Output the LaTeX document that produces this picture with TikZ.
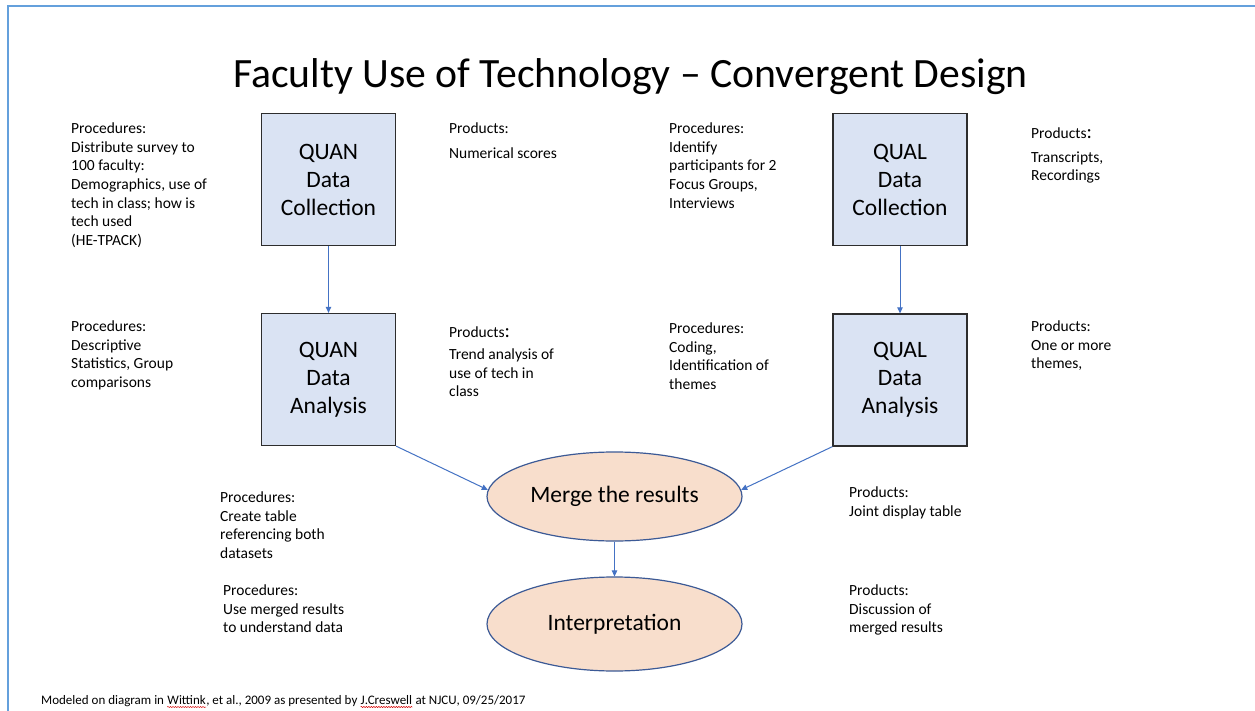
\documentclass[tikz,border=0pt]{standalone}
\usepackage{fontspec}
\setmainfont{Carlito}
\usetikzlibrary{arrows.meta,shapes.geometric,decorations.pathmorphing}

\definecolor{frameblue}{RGB}{100,160,220}
\definecolor{boxfill}{RGB}{218,227,243}
\definecolor{boxline}{RGB}{45,45,45}
\definecolor{ovalfill}{RGB}{248,222,204}
\definecolor{ovalline}{RGB}{60,90,150}
\definecolor{linkblue}{RGB}{68,114,196}

% left-aligned block whose baseline is that of its first line
\newcommand\stack[1]{\begin{tabular}[t]{@{}l@{}}#1\end{tabular}}
\newcommand\bigcolon{{\fontsize{20}{20}\selectfont:}}

\begin{document}
\begin{tikzpicture}[x=1pt,y=-1pt,
  stepbox/.style={draw=boxline, line width=1.3pt, fill=boxfill,
    minimum width=134pt, minimum height=132pt, align=center, inner sep=0,
    font=\fontsize{23.5}{28}\selectfont},
  oval/.style={ellipse, draw=ovalline, line width=1.2pt, fill=ovalfill,
    minimum width=255pt, minimum height=89pt, inner sep=0,
    font=\fontsize{23.5}{28}\selectfont},
  note/.style={anchor=base west, inner sep=0, yshift=-2pt,
    font=\fontsize{15.5}{18.7}\selectfont},
  foot/.style={anchor=base west, inner sep=0, font=\fontsize{13}{15}\selectfont},
  link/.style={draw=linkblue, line width=1pt, -{Triangle[length=6pt,width=5.5pt]}},
  squiggle/.style={red!85!black, line width=0.5pt, decorate,
    decoration={snake, amplitude=0.6pt, segment length=2.5pt}},
]
\path[use as bounding box, fill=white] (0,0) rectangle (1255,711);

% slide frame
\draw[frameblue, line width=2pt] (8,711) -- (8,6) -- (1255,6);

% title
\node[anchor=base, inner sep=0, font=\fontsize{41.7}{48}\selectfont] (title)
  at (630.5,88) {Faculty Use of Technology – Convergent Design};

% process boxes
\node[stepbox] (quanC) at (328.5,179.5) {QUAN\\Data\\Collection};
\node[stepbox] (qualC) at (900,179.5) {QUAL\\Data\\Collection};
\node[stepbox] (quanA) at (328.5,379.5) {QUAN\\Data\\Analysis};
\node[stepbox] (qualA) at (900,380) {QUAL\\Data\\Analysis};
\node[oval] (merge) at (614.5,496.5) {Merge the results};
\node[oval, minimum height=94pt] (interp) at (614.5,624) {Interpretation};

% connectors
\draw[link] (quanC) -- (quanA);
\draw[link] (qualC) -- (qualA);
\draw[link] (quanA.south east) -- (merge.177);
\draw[link] (qualA.south west) -- (merge.3);
\draw[link] (merge) -- (interp);

% procedures and products
\node[note] (procQuanC) at (71,131.5) {\stack{Procedures:\\Distribute survey to\\100 faculty:\\Demographics, use of\\tech in class; how is\\tech used\\(HE-TPACK)}};
\node[note] (prodQuanC) at (449,131.5) {\stack{Products:\\[6.3pt]Numerical scores}};
\node[note] (procQualC) at (669,131.5) {\stack{Procedures:\\Identify\\participants for 2\\Focus Groups,\\Interviews}};
\node[note] (prodQualC) at (1031,136.5) {\stack{Products\bigcolon\\[5pt]Transcripts,\\Recordings}};

\node[note] (procQuanA) at (71,329.5) {\stack{Procedures:\\Descriptive\\Statistics, Group\\comparisons}};
\node[note] (prodQuanA) at (449,335.5) {\stack{Products\bigcolon\\[3.3pt]Trend analysis of\\use of tech in\\class}};
\node[note] (procQualA) at (669,331.5) {\stack{Procedures:\\Coding,\\Identification of\\themes}};
\node[note] (prodQualA) at (1031,329.5) {\stack{Products:\\One or more\\themes,}};

\node[note] (procMerge) at (220,500.5) {\stack{Procedures:\\Create table\\referencing both\\datasets}};
\node[note] (procInterp) at (223,593.5) {\stack{Procedures:\\Use merged results\\to understand data}};
\node[note] (prodMerge) at (849,495.5) {\stack{Products:\\Joint display table}};
\node[note] (prodInterp) at (849,593.5) {\stack{Products:\\Discussion of\\merged results}};

% source line, split so the flagged words can be underlined
\node[foot] (f1) at (41,704) {Modeled on diagram in\ \mbox{}};
\node[foot] (f2) at (f1.base east) {Wittink};
\node[foot] (f3) at (f2.base east) {, et al., 2009 as presented by\ \mbox{}};
\node[foot] (f4) at (f3.base east) {J.Creswell};
\node[foot] (f5) at (f4.base east) {\ at NJCU, 09/25/2017};
\draw[squiggle] ([yshift=-3pt]f2.base west) -- ([yshift=-3pt]f2.base east);
\draw[squiggle] ([yshift=-3pt]f4.base west) -- ([yshift=-3pt]f4.base east);
\end{tikzpicture}
\end{document}
